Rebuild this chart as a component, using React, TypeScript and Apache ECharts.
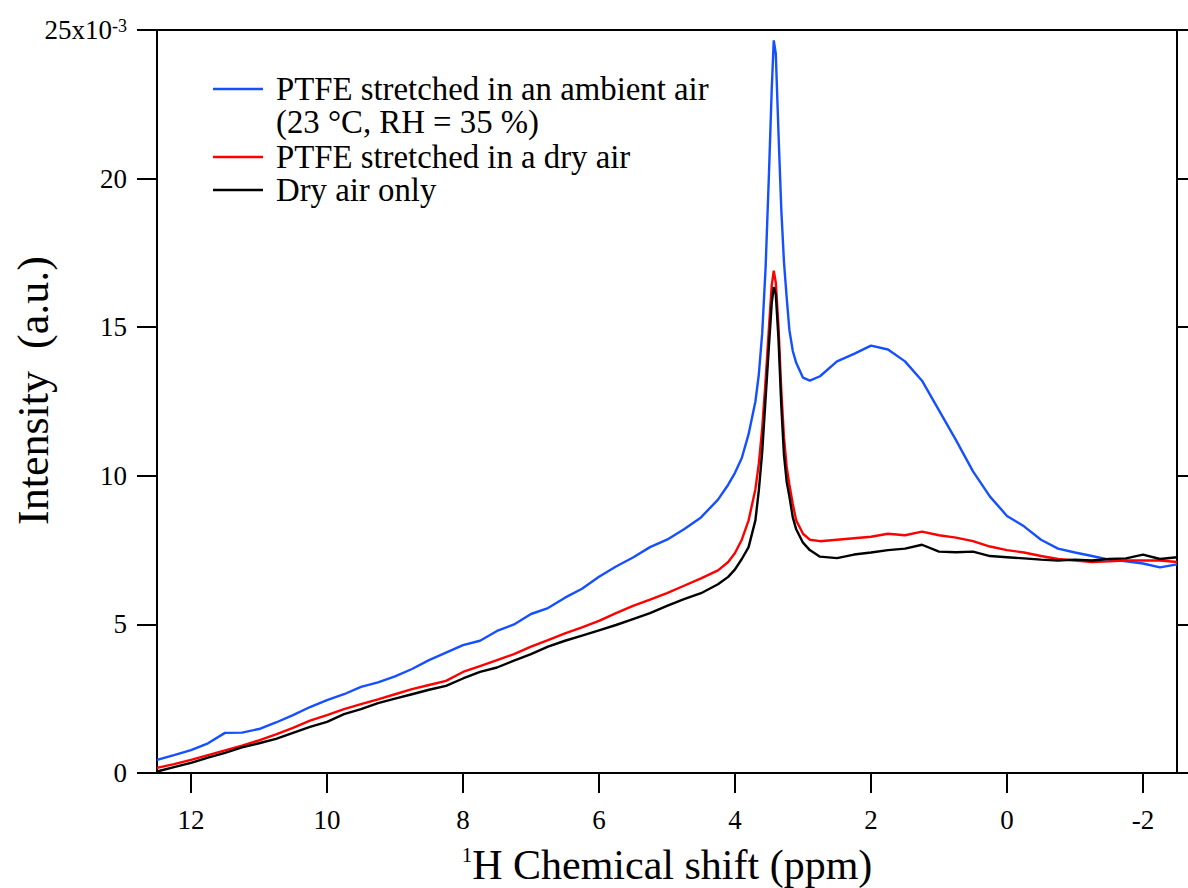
import React, { useEffect, useRef } from "react";
import * as echarts from "echarts";

// 1H chemical shift (ppm)
const shifts = [
  12.5, 12.25, 12.0, 11.75, 11.5, 11.25, 11.0, 10.75, 10.5, 10.25, 10.0, 9.75, 9.5, 9.25, 9.0, 8.75, 8.5, 8.25,
  8.0, 7.75, 7.5, 7.25, 7.0, 6.75, 6.5, 6.25, 6.0, 5.75, 5.5, 5.25, 5.0, 4.75, 4.5, 4.25,
  4.1, 4.0, 3.9, 3.8, 3.7, 3.65, 3.6, 3.55, 3.5, 3.46, 3.43, 3.4, 3.36, 3.32, 3.28, 3.24, 3.2, 3.15, 3.1, 3.0, 2.9,
  2.75, 2.5, 2.25, 2.0, 1.75, 1.5, 1.25, 1.0, 0.75, 0.5, 0.25, 0.0, -0.25, -0.5, -0.75, -1.0, -1.25, -1.5, -1.75,
  -2.0, -2.25, -2.5,
];

// Intensity (x10^-3)
const ambientAir = [
  0.44, 0.6, 0.77, 1.0, 1.35, 1.36, 1.48, 1.7, 1.95, 2.22, 2.45, 2.65, 2.9, 3.05, 3.25, 3.5, 3.8, 4.05,
  4.3, 4.45, 4.78, 5.0, 5.35, 5.55, 5.9, 6.2, 6.6, 6.95, 7.25, 7.6, 7.85, 8.2, 8.6, 9.2,
  9.7, 10.1, 10.6, 11.4, 12.5, 13.4, 14.8, 17.0, 20.2, 23.0, 24.65, 24.2, 21.5, 19.0, 17.2, 16.0, 14.9, 14.2, 13.8, 13.3, 13.2,
  13.35, 13.85, 14.1, 14.38, 14.25, 13.85, 13.2, 12.2, 11.2, 10.15, 9.3, 8.65, 8.3, 7.85, 7.55, 7.42, 7.3, 7.18, 7.12,
  7.05, 6.92, 7.02,
];

const dryAirPTFE = [
  0.17, 0.3, 0.44, 0.6, 0.76, 0.92, 1.1, 1.3, 1.52, 1.76, 1.95, 2.15, 2.32, 2.48, 2.65, 2.82, 2.96, 3.1,
  3.4, 3.6, 3.8, 4.0, 4.25, 4.47, 4.7, 4.9, 5.12, 5.38, 5.62, 5.83, 6.05, 6.3, 6.55, 6.82,
  7.1, 7.4, 7.85, 8.5, 9.55, 10.4, 11.6, 13.2, 15.0, 16.4, 16.9, 16.5, 15.0, 12.9, 11.3, 10.3, 9.7, 9.05, 8.5, 8.05, 7.85,
  7.8, 7.85, 7.9, 7.95, 8.05, 8.0, 8.12, 8.0, 7.92, 7.8, 7.62, 7.5, 7.42, 7.3, 7.2, 7.15, 7.1, 7.12, 7.15,
  7.15, 7.15, 7.1,
];

const dryAirOnly = [
  0.05, 0.2, 0.34, 0.52, 0.68, 0.86, 1.0, 1.15, 1.35, 1.55, 1.72, 1.98, 2.15, 2.35, 2.5, 2.65, 2.8, 2.93,
  3.18, 3.4, 3.55, 3.78, 4.0, 4.25, 4.45, 4.62, 4.8, 4.98, 5.18, 5.38, 5.62, 5.85, 6.05, 6.35,
  6.6, 6.85, 7.2, 7.6, 8.5, 9.5, 10.8, 12.6, 14.4, 15.8, 16.35, 16.1, 14.6, 12.4, 10.7, 9.8, 9.3, 8.6, 8.2, 7.75, 7.5,
  7.28, 7.23, 7.35, 7.42, 7.5, 7.55, 7.68, 7.45, 7.43, 7.45, 7.3, 7.26, 7.22, 7.18, 7.15, 7.18, 7.15, 7.2, 7.22,
  7.35, 7.2, 7.26,
];

const xTickValues = [12, 10, 8, 6, 4, 2, 0, -2];
const seriesNames = ["PTFE stretched in an ambient air (23 °C, RH = 35 %)", "PTFE stretched in a dry air", "Dry air only"];
const legendLines = ["PTFE stretched in an ambient air", "(23 °C, RH = 35 %)", "PTFE stretched in a dry air", "Dry air only"];

const FONT = '"Liberation Serif", "Times New Roman", serif';
const BLUE = "#1450ff";
const RED = "#ff0000";
const BLACK = "#000000";

export default function App() {
  const ref = useRef<HTMLDivElement>(null);

  useEffect(() => {
    const chart = echarts.init(ref.current!, null, { renderer: "svg" });
    const pair = (ys: number[]) => shifts.map((x, i) => [x, ys[i]]);
    const axisLineStyle = { color: "#000", width: 2 };
    const legendText = (text: string, y: number) => ({
      type: "text",
      x: 276,
      y,
      style: {
        text,
        fontSize: 32.8,
        lineHeight: 32,
        fontFamily: FONT,
        fill: "#000",
        verticalAlign: "middle",
        textAlign: "left",
      },
    });
    const legendLine = (color: string, y: number) => ({
      type: "line",
      shape: { x1: 213, y1: y, x2: 263, y2: y },
      style: { stroke: color, lineWidth: 2.5 },
    });

    chart.setOption({
      animation: false,
      backgroundColor: "#ffffff",
      grid: { left: 157, right: 11, top: 30, bottom: 115, containLabel: false, outerBoundsMode: "none" },
      xAxis: [
        {
          type: "value",
          min: -2.5,
          max: 12.5,
          inverse: true,
          position: "bottom",
          name: "{sup|1}H Chemical shift (ppm)",
          nameLocation: "middle",
          nameGap: 71,
          nameMoveOverlap: false,
          nameTextStyle: {
            fontFamily: FONT,
            fontSize: 42,
            color: "#000",
            rich: { sup: { fontFamily: FONT, fontSize: 21, color: "#000", verticalAlign: "top" } },
          },
          axisLine: { show: true, onZero: false, lineStyle: axisLineStyle },
          axisTick: { show: true, inside: false, length: 20, customValues: xTickValues, lineStyle: axisLineStyle },
          axisLabel: { customValues: xTickValues, margin: 33, fontFamily: FONT, fontSize: 27, color: "#000" },
          splitLine: { show: false },
        },
        {
          type: "value",
          min: -2.5,
          max: 12.5,
          inverse: true,
          position: "top",
          axisLine: { show: true, onZero: false, lineStyle: axisLineStyle },
          axisTick: { show: false },
          axisLabel: { show: false },
          splitLine: { show: false },
        },
      ],
      yAxis: [
        {
          type: "value",
          min: 0,
          max: 25,
          interval: 5,
          position: "left",
          name: "Intensity  (a.u.)",
          nameLocation: "middle",
          nameRotate: 90,
          nameGap: 102,
          nameMoveOverlap: false,
          nameTextStyle: { fontFamily: FONT, fontSize: 44, color: "#000", padding: [0, 0, 0, 22] },
          axisLine: { show: true, onZero: false, lineStyle: axisLineStyle },
          axisTick: { show: true, inside: false, length: 20, lineStyle: axisLineStyle },
          axisLabel: {
            margin: 30,
            fontFamily: FONT,
            fontSize: 27,
            color: "#000",
            formatter: (v: number) => (v === 25 ? "25x10{sup|-3}" : String(v)),
            rich: { sup: { fontFamily: FONT, fontSize: 18, color: "#000", verticalAlign: "top" } },
          },
          splitLine: { show: false },
        },
        {
          type: "value",
          min: 0,
          max: 25,
          interval: 5,
          position: "right",
          axisLine: { show: true, onZero: false, lineStyle: axisLineStyle },
          axisTick: { show: true, inside: false, length: 20, lineStyle: axisLineStyle },
          axisLabel: { show: false },
          splitLine: { show: false },
        },
      ],
      series: [
        {
          name: seriesNames[0],
          type: "line",
          data: pair(ambientAir),
          showSymbol: false,
          lineStyle: { color: BLUE, width: 2.4 },
          itemStyle: { color: BLUE },
          z: 2,
        },
        {
          name: seriesNames[1],
          type: "line",
          data: pair(dryAirPTFE),
          showSymbol: false,
          lineStyle: { color: RED, width: 2.4 },
          itemStyle: { color: RED },
          z: 3,
        },
        {
          name: seriesNames[2],
          type: "line",
          data: pair(dryAirOnly),
          showSymbol: false,
          lineStyle: { color: BLACK, width: 2.4 },
          itemStyle: { color: BLACK },
          z: 4,
        },
      ],
      graphic: [
        legendLine(BLUE, 89),
        legendText(legendLines[0], 89),
        legendText(legendLines[1], 122),
        legendLine(RED, 157),
        legendText(legendLines[2], 157),
        legendLine(BLACK, 190),
        legendText(legendLines[3], 190),
      ],
    });

    return () => chart.dispose();
  }, []);

  return (
    <div
      ref={ref}
      style={{ position: "absolute", left: 0, top: 0, width: 1188, height: 888, background: "#fff" }}
    />
  );
}
